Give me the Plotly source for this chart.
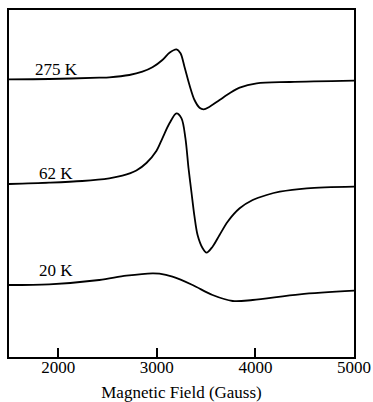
import plotly.graph_objects as go

# Magnetic field (Gauss) and signal (arbitrary units, vertically offset)
field_275 = [1500, 1907, 2416, 2517, 2721, 2853, 2955, 3056, 3128, 3199, 3240, 3280, 3331, 3382, 3433, 3474, 3535, 3636, 3738, 3840, 4013, 4348, 5000]
signal_275 = [277.7, 278, 279.3, 279.7, 282, 285.3, 289.7, 297, 304.3, 307.7, 303.7, 290.3, 272, 257, 249.3, 247.7, 250.3, 257, 263.7, 269.3, 273.7, 275, 276.3]

field_62 = [1500, 1907, 2243, 2517, 2650, 2792, 2894, 2995, 3056, 3128, 3199, 3250, 3290, 3321, 3352, 3382, 3413, 3463, 3504, 3565, 3636, 3718, 3840, 3972, 4114, 4247, 4521, 5000]
signal_62 = [173, 174.3, 176, 178.7, 181.3, 186.5, 194, 206, 218.7, 233.7, 243.7, 238.7, 218.7, 189, 164, 140.3, 122, 109, 104.3, 110.3, 122, 135.3, 148.7, 157, 162, 165.3, 168.7, 170.3]

field_20 = [1500, 1907, 2416, 2690, 2955, 3026, 3158, 3362, 3565, 3769, 3972, 4450, 5000]
signal_20 = [72, 72.7, 77, 81.3, 83.7, 83.3, 80.3, 72, 62, 56, 57, 62.7, 66.3]

labels = ["275 K", "62 K", "20 K"]
label_field = [1978, 1978, 1978]
label_signal = [288, 183.5, 87]

x_ticks = [2000, 3000, 4000, 5000]

FONT = "Liberation Serif, Times New Roman, serif"

fig = go.Figure()
for fx, sy in [(field_275, signal_275), (field_62, signal_62), (field_20, signal_20)]:
    fig.add_trace(go.Scatter(x=fx, y=sy, mode="lines",
                             line=dict(color="black", width=1.8, shape="spline", smoothing=0.9),
                             showlegend=False, hoverinfo="skip"))

for t, lx, ly in zip(labels, label_field, label_signal):
    fig.add_annotation(x=lx, y=ly, text=t, showarrow=False,
                       font=dict(family=FONT, size=17, color="black"),
                       xanchor="center", yanchor="middle")

fig.update_layout(
    width=373, height=402,
    margin=dict(l=9, r=19, t=10, b=45, autoexpand=False),
    paper_bgcolor="white", plot_bgcolor="white",
    font=dict(family=FONT, size=17, color="black"),
)
fig.update_xaxes(range=[1500, 5000], tickvals=x_ticks, ticktext=[str(v) for v in x_ticks],
                 ticks="inside", ticklen=9, tickwidth=1.5, tickcolor="black",
                 showline=True, linecolor="black", linewidth=1.5, mirror=True,
                 showgrid=False, zeroline=False, automargin=False,
                 ticklabelstandoff=-6,
                 title=dict(text="Magnetic Field (Gauss)", font=dict(family=FONT, size=17), standoff=12),
                 tickfont=dict(family=FONT, size=17))
fig.update_yaxes(range=[0, 347], showticklabels=False, ticks="",
                 showline=True, linecolor="black", linewidth=1.5, mirror=True,
                 showgrid=False, zeroline=False, automargin=False)

fig.write_html("out.html", config={"displayModeBar": False},
               post_script="document.body.style.margin='0';document.body.style.overflow='hidden';")
